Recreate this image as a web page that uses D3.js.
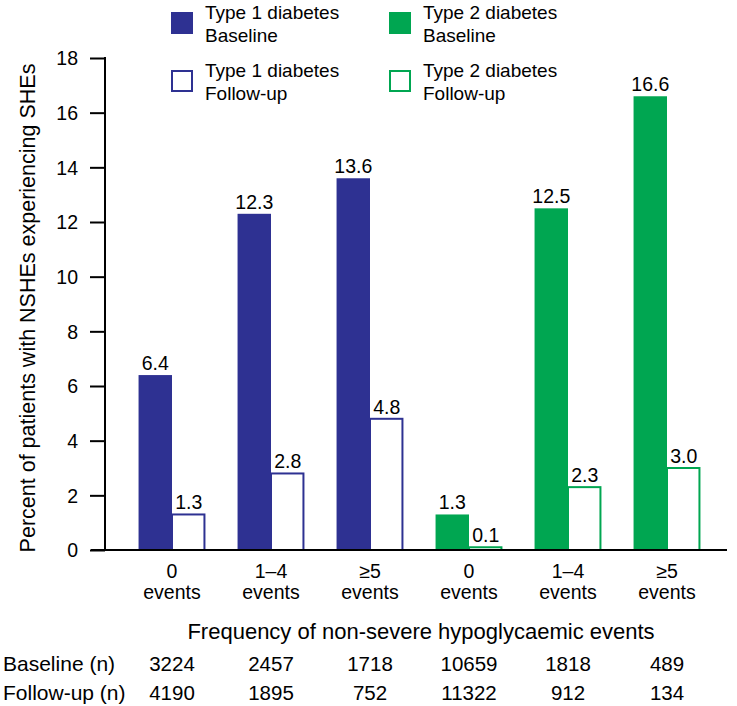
<!DOCTYPE html>
<html><head><meta charset="utf-8">
<script src="https://cdn.jsdelivr.net/npm/d3@7"></script>
<style>body{margin:0;background:#fff}svg{display:block;font-family:"Liberation Sans",Arial,sans-serif}</style>
</head><body><svg id="c" width="737" height="706"></svg>
<script>
const categories = ["0|events","1–4|events","≥5|events","0|events","1–4|events","≥5|events"];
const diabetesType = ["Type 1","Type 1","Type 1","Type 2","Type 2","Type 2"];
const baselineValues = [6.4, 12.3, 13.6, 1.3, 12.5, 16.6];
const followupValues = [1.3, 2.8, 4.8, 0.1, 2.3, 3.0];
const baselineN = ["3224","2457","1718","10659","1818","489"];
const followupN = ["4190","1895","752","11322","912","134"];
const yTicks = [0,2,4,6,8,10,12,14,16,18];
const legendItems = [
  {label:["Type 1 diabetes","Baseline"], type:"Type 1", filled:true},
  {label:["Type 1 diabetes","Follow-up"], type:"Type 1", filled:false},
  {label:["Type 2 diabetes","Baseline"], type:"Type 2", filled:true},
  {label:["Type 2 diabetes","Follow-up"], type:"Type 2", filled:false}
];
const colors = {"Type 1":"#2e3192","Type 2":"#00a651"};

const svg = d3.select("#c");
const fs = 19;
const y = d3.scaleLinear().domain([0,18]).range([550,58]);
const x0 = d3.scaleBand().domain(d3.range(6)).range([122.5,716.5]);
const x1 = d3.scaleBand().domain(["b","f"]).range([0,x0.bandwidth()]).paddingOuter(0.48);

// y axis
const yAxis = d3.axisLeft(y).tickValues(yTicks).tickSize(15).tickFormat(d3.format("d"));
const gy = svg.append("g").attr("transform","translate(105,0)").call(yAxis);
gy.select(".domain").attr("d","M0,"+(y(18)-1)+"V"+y(0)).attr("stroke","#000").attr("stroke-width",2);
gy.selectAll(".tick line").attr("stroke","#000").attr("stroke-width",2);
gy.selectAll(".tick text").attr("font-size",19.5).attr("fill","#000").attr("x",-27).attr("dy","0.35em");

// bars
const g = svg.append("g");
const data = d3.range(6).map(i=>({i, b:baselineValues[i], f:followupValues[i], t:diabetesType[i]}));
g.selectAll("rect.b").data(data).join("rect").attr("class","b")
  .attr("x",d=>x0(d.i)+x1("b")).attr("width",x1.bandwidth())
  .attr("y",d=>y(d.b)).attr("height",d=>y(0)-y(d.b)).attr("fill",d=>colors[d.t]);
g.selectAll("rect.f").data(data).join("rect").attr("class","f")
  .attr("x",d=>x0(d.i)+x1("f")).attr("width",x1.bandwidth()-1)
  .attr("y",d=>y(d.f)).attr("height",d=>y(0)-y(d.f)).attr("fill","#fff")
  .attr("stroke",d=>colors[d.t]).attr("stroke-width",2);
g.selectAll("text.vb").data(data).join("text").attr("class","vb")
  .attr("x",d=>x0(d.i)+x1("b")+x1.bandwidth()/2).attr("y",d=>y(d.b)-5)
  .attr("text-anchor","middle").attr("font-size",19.5).text(d=>d3.format(".1f")(d.b));
g.selectAll("text.vf").data(data).join("text").attr("class","vf")
  .attr("x",d=>x0(d.i)+x1("f")+x1.bandwidth()/2).attr("y",d=>y(d.f)-5)
  .attr("text-anchor","middle").attr("font-size",19.5).text(d=>d3.format(".1f")(d.f));

// x axis line
svg.append("line").attr("x1",91).attr("x2",727).attr("y1",y(0)).attr("y2",y(0)).attr("stroke","#000").attr("stroke-width",2);

// category labels
const cx = i=>x0(i)+x0.bandwidth()/2;
categories.forEach((c,i)=>{
  const parts=c.split("|");
  const t=svg.append("text").attr("x",cx(i)).attr("y",578).attr("text-anchor","middle").attr("font-size",19.5);
  t.append("tspan").attr("x",cx(i)).attr("dy",0).text(parts[0]);
  t.append("tspan").attr("x",cx(i)).attr("dy",21).text(parts[1]);
});

svg.append("text").attr("x",421).attr("y",639).attr("text-anchor","middle").attr("font-size",22)
  .text("Frequency of non-severe hypoglycaemic events");
svg.append("text").attr("x",3).attr("y",670.5).attr("font-size",21).text("Baseline (n)");
svg.append("text").attr("x",3).attr("y",699.5).attr("font-size",21).text("Follow-up (n)");
baselineN.forEach((n,i)=>svg.append("text").attr("x",cx(i)).attr("y",670.5).attr("text-anchor","middle").attr("font-size",20.5).text(n));
followupN.forEach((n,i)=>svg.append("text").attr("x",cx(i)).attr("y",699.5).attr("text-anchor","middle").attr("font-size",20.5).text(n));

// y title
svg.append("text").attr("transform","translate(35,308) rotate(-90)").attr("text-anchor","middle").attr("font-size",21.5)
  .text("Percent of patients with NSHEs experiencing SHEs");

// legend
legendItems.forEach((it,k)=>{
  const lx = it.type==="Type 1" ? 171 : 389;
  const ly = it.filled ? 12 : 70;
  svg.append("rect").attr("x",lx+(it.filled?0:1)).attr("y",ly+(it.filled?0:1)).attr("width",it.filled?22:20).attr("height",it.filled?22:20)
    .attr("fill",it.filled?colors[it.type]:"#fff").attr("stroke",it.filled?"none":colors[it.type]).attr("stroke-width",2);
  const t=svg.append("text").attr("x",lx+34).attr("y",ly+7).attr("font-size",fs);
  t.append("tspan").attr("x",lx+34).attr("dy",0).text(it.label[0]);
  t.append("tspan").attr("x",lx+34).attr("dy",23).text(it.label[1]);
});
</script></body></html>
